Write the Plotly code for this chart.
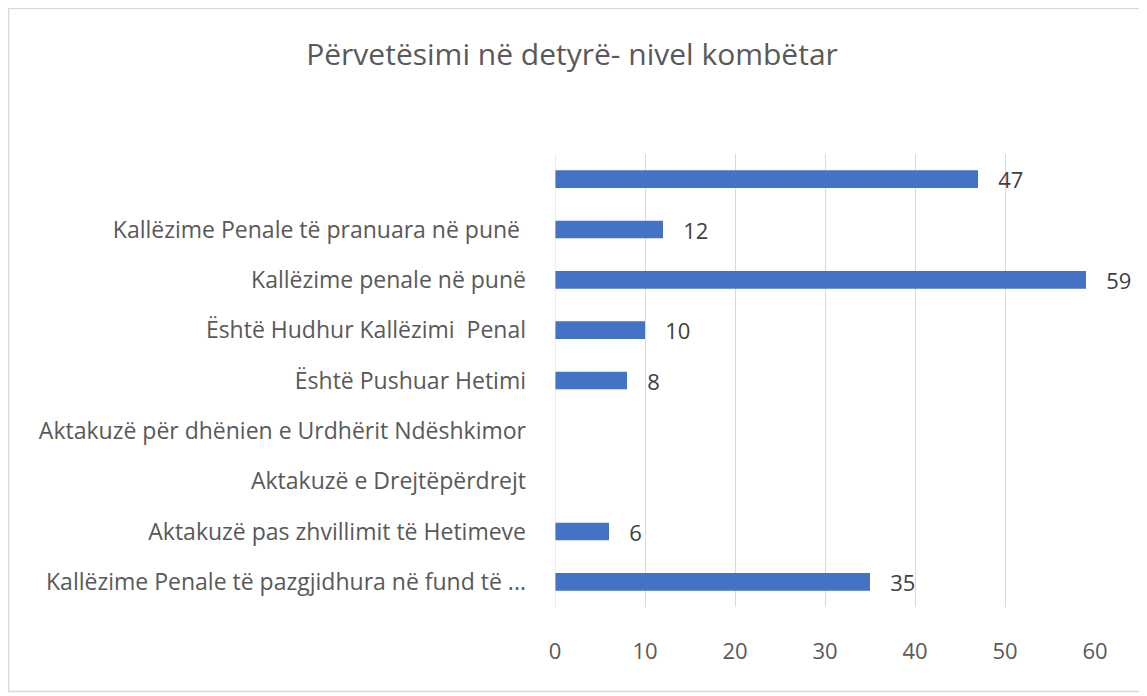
import plotly.graph_objects as go

# categories listed from top to bottom, as in the chart
categories = [
    " ",
    "Kallëzime Penale të pranuara në punë ",
    "Kallëzime penale në punë",
    "Është Hudhur Kallëzimi  Penal",
    "Është Pushuar Hetimi",
    "Aktakuzë për dhënien e Urdhërit Ndëshkimor",
    "Aktakuzë e Drejtëpërdrejt",
    "Aktakuzë pas zhvillimit të Hetimeve",
    "Kallëzime Penale të pazgjidhura në fund të ...",
]
values = [47, 12, 59, 10, 8, None, None, 6, 35]
x_ticks = [0, 10, 20, 30, 40, 50, 60]

title_text = "Përvetësimi në detyrë- nivel kombëtar"

# the page adds an 8px body margin, so the figure is a bit smaller
W, H = 1139, 688
FONT = "Open Sans"

fig = go.Figure()

fig.add_trace(go.Bar(
    x=values,
    y=categories,
    orientation="h",
    width=0.35,
    marker=dict(color="#4472C4", line=dict(width=0)),
    text=values,
    texttemplate="\u00a0\u00a0\u00a0%{x}",
    textposition="outside",
    constraintext="none",
    cliponaxis=False,
    textfont=dict(family=FONT, size=22, color="#404040"),
    outsidetextfont=dict(family=FONT, size=22, color="#404040"),
    hoverinfo="skip",
))

fig.update_layout(
    width=W,
    height=H,
    margin=dict(l=547, r=52, t=146, b=89),
    paper_bgcolor="white",
    plot_bgcolor="white",
    showlegend=False,
    title=dict(
        text=title_text,
        x=0.4952,
        xanchor="center",
        y=0.9317,
        yanchor="middle",
        font=dict(family=FONT, size=30, color="#595959"),
    ),
    xaxis=dict(
        range=[0, 60],
        tickvals=x_ticks,
        showgrid=True,
        gridcolor="#D9D9D9",
        gridwidth=1,
        zeroline=False,
        showline=False,
        ticks="",
        ticklabelstandoff=29,
        tickfont=dict(family=FONT, size=22, color="#595959"),
    ),
    yaxis=dict(
        autorange="reversed",
        showgrid=False,
        zeroline=False,
        showline=False,
        ticks="",
        ticklabelstandoff=28,
        tickfont=dict(family=FONT, size=23, color="#595959"),
    ),
    shapes=[
        # outer chart border
        dict(type="rect", xref="paper", yref="paper",
             x0=-1.0120, x1=1.0889, y0=-0.1865, y1=1.3212,
             line=dict(color="#D9D9D9", width=1.5), layer="below"),
        # vertical axis line at zero
        dict(type="line", xref="x", yref="paper",
             x0=0, x1=0, y0=0, y1=1,
             line=dict(color="#D9D9D9", width=1)),
    ],
)

fig.write_html("out.html")
